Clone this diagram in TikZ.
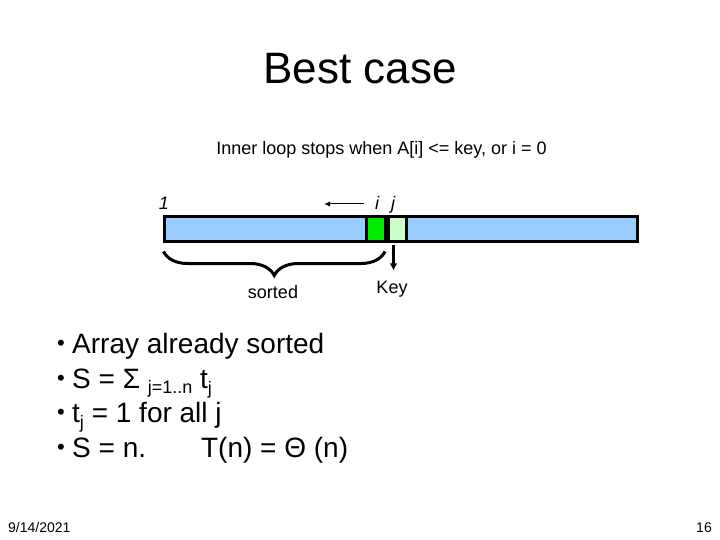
\documentclass[tikz,border=0pt]{standalone}
\usepackage{fontspec}
\setmainfont{Liberation Sans}
\usepackage{xcolor}
\definecolor{barblue}{RGB}{153,204,255}
\definecolor{cellgreen}{RGB}{0,235,0}
\definecolor{keygreen}{RGB}{204,255,204}
\usetikzlibrary{arrows.meta, positioning, decorations.pathreplacing}
\newcommand{\fsz}[1]{\fontsize{#1}{#1}\selectfont}

\begin{document}
\begin{tikzpicture}[
  x=1pt, y=-1pt,
  cell/.style={draw, line width=3pt, minimum height=24pt, inner sep=0pt,
    anchor=north west},
  lbl/.style={inner sep=0pt, anchor=base, font=\fsz{18}},
  idx/.style={lbl, font=\fsz{18}\itshape},
  item/.style={inner sep=0pt, anchor=base west, font=\fsz{28}},
  dot/.style={inner sep=0pt, anchor=base, font=\fsz{22}, yshift=3pt},
  foot/.style={inner sep=0pt, font=\fsz{14}},
  back/.style={line width=1pt, -{Latex[length=6pt, width=5pt]}},
  keyarrow/.style={line width=2.5pt, -{Latex[length=7pt, width=8pt]}},
  brace/.style={line width=3pt, decorate,
    decoration={brace, mirror, amplitude=24pt}},
]
\fill[white] (0,0) rectangle (720,540);
\useasboundingbox (0,0) rectangle (720,540);

\node[inner sep=0pt, anchor=base, font=\fsz{44}] (title) at (360,84) {Best case};
\node[lbl] (cond) at (381.5,155) {Inner loop stops when A[i] <= key, or i = 0};

\node[cell, fill=barblue, minimum width=473pt] (bar) at (162.5,215.5) {};
\node[cell, fill=cellgreen, minimum width=19.5pt] (icell) at (364.5,215.5) {};
\node[cell, fill=keygreen, minimum width=18pt] (jcell) at (icell.north east) {};

\node[idx] (one) at (164,210) {1};
\node[idx] (ilbl) at (377,210) {i};
\node[idx] (jlbl) at (393,210) {j};
\coordinate (arrtail) at (364,204);
\coordinate (arrhead) at (324,204);
\draw[back] (arrtail) -- (arrhead);

\node[lbl] (keylbl) at (392,293) {Key};
\coordinate (keytop) at ([xshift=-4pt, yshift=-2pt]jcell.south);
\draw[keyarrow, shorten >=10pt] (keytop) -- (keytop |- keylbl.north);

\draw[brace] ([xshift=1pt, yshift=-9pt]bar.south west)
  -- ([xshift=-2pt, yshift=-9pt]icell.south east);
\node[lbl] (sorted) at (273,298) {sorted};

\node[dot] (b1) at (61,353) {•};
\node[item] (l1) at (72,353) {Array already sorted};
\node[dot] (b2) at (61,388) {•};
\node[item] (l2) at (72,388) {S = Σ \raisebox{-5pt}{\fsz{18}j=1..n} t\raisebox{-6pt}{\fsz{18}j}};
\node[dot] (b3) at (61,422) {•};
\node[item] (l3) at (72,422) {t\raisebox{-6pt}{\fsz{18}j} = 1 for all j};
\node[dot] (b4) at (61,457) {•};
\node[item] (l4) at (72,457) {S = n.\hspace{55pt}T(n) = Θ (n)};

\node[foot, anchor=base west] (date) at (8,532) {9/14/2021};
\node[foot, anchor=base east] (page) at (712,532) {16};
\end{tikzpicture}
\end{document}
